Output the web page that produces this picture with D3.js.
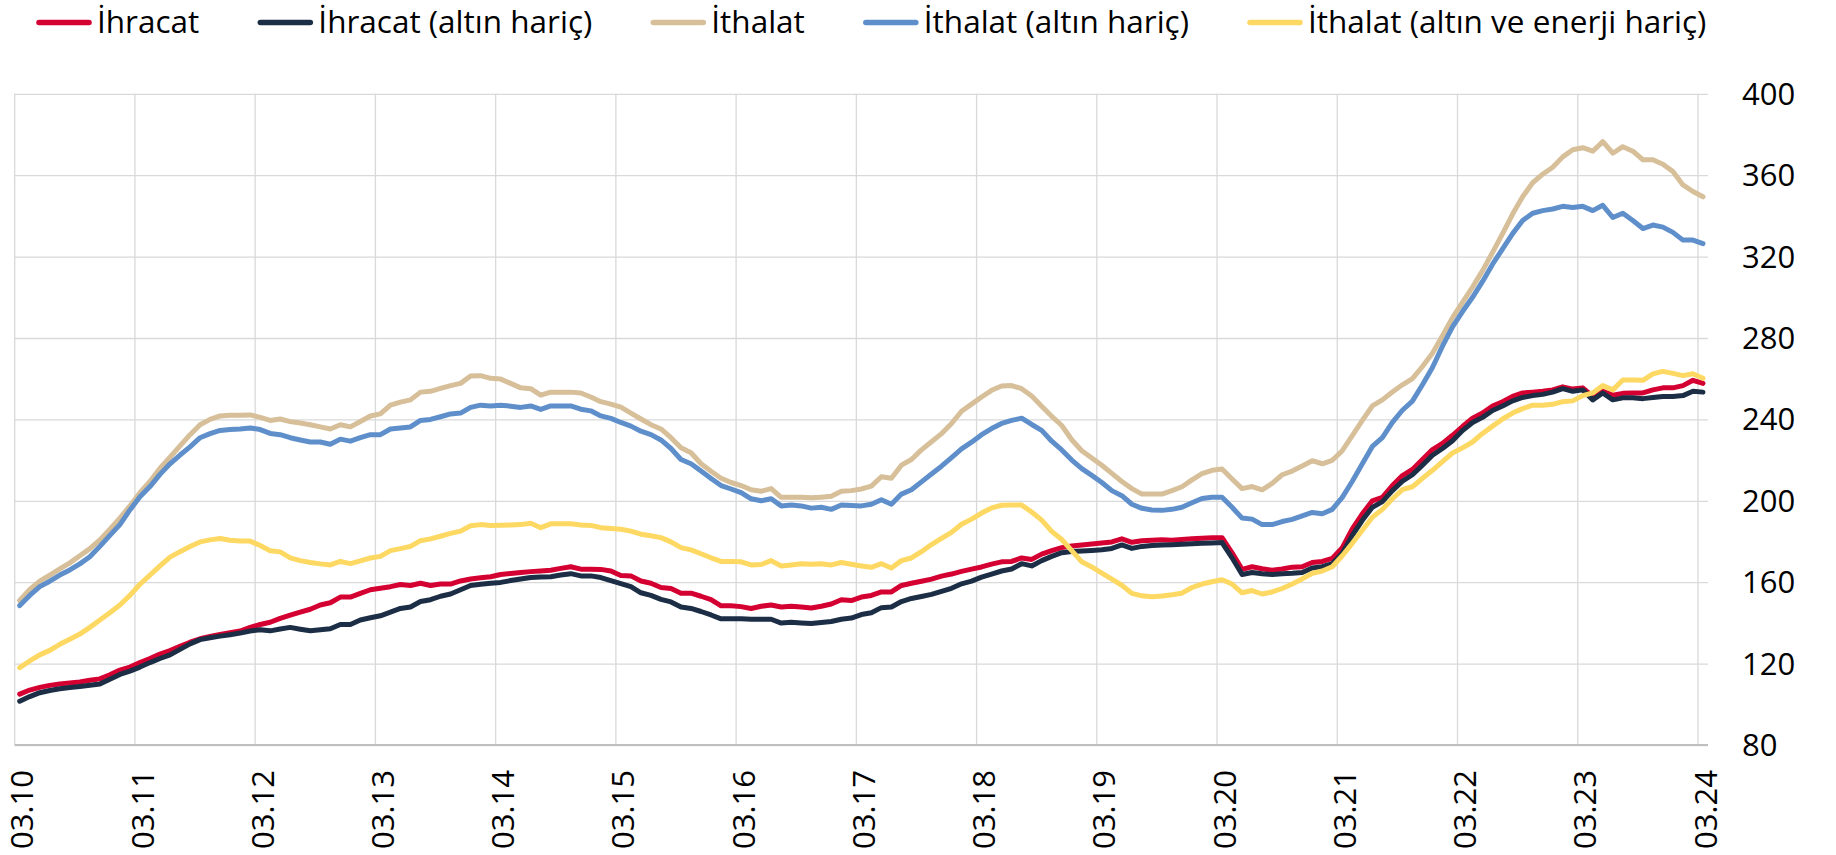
<!DOCTYPE html>
<html><head><meta charset="utf-8">
<script src="https://cdn.jsdelivr.net/npm/d3@7"></script>
<style>html,body{margin:0;padding:0;background:#fff;}svg{display:block;font-family:"Open Sans",sans-serif;}</style>
</head><body>
<svg id="chart" width="1836" height="855"></svg>
<script>
// ---- DATA ----
const seriesNames = ["İhracat","İhracat (altın hariç)","İthalat","İthalat (altın hariç)","İthalat (altın ve enerji hariç)"];
const seriesColors = ["#d50032","#1c2e45","#d6bf99","#5f8fcb","#fdd862"];
const xTickLabels = ["03.10","03.11","03.12","03.13","03.14","03.15","03.16","03.17","03.18","03.19","03.20","03.21","03.22","03.23","03.24"];
const yTicks = [80,120,160,200,240,280,320,360,400];

// months 03.10 ... 03.24 (category labels, MM.YY)
const months = [];
for (let yy = 10; yy <= 24; yy++) {
  for (let mm = 1; mm <= 12; mm++) {
    if ((yy === 10 && mm < 3) || (yy === 24 && mm > 3)) continue;
    months.push(String(mm).padStart(2,"0") + "." + yy);
  }
}

const ihracat = [
105,107,108.3,109.3,110,110.5,111,111.8,112.5,114.5,116.8,118.3,
120.5,122.5,124.7,126.4,128.5,130.5,132.2,133.3,134.3,135.2,136,137.8,
139.2,140.3,142.2,143.8,145.3,146.7,148.8,149.9,152.7,152.7,154.5,156.3,
157,157.8,158.9,158.4,159.5,158.4,159.1,159.1,160.6,161.6,162.2,162.7,
163.8,164.3,164.8,165.2,165.5,165.9,166.8,167.6,166.4,166.4,166.3,165.5,
163.3,163.1,160.6,159.5,157.4,156.9,154.6,154.6,153.1,151.4,148.4,148.4,
148,147.1,148.2,148.8,147.8,148.2,147.8,147.3,148.2,149.3,151.4,151,
152.7,153.5,155.2,155.2,158.4,159.5,160.5,161.5,163,164,165.3,166.4,
167.5,168.9,170,170.2,171.9,171.2,173.8,175.5,177,177.8,178.3,178.8,
179.3,179.8,181.3,179.6,180.4,180.6,180.8,180.6,181,181.3,181.6,181.9,
181.9,174.4,166.3,167.6,166.6,165.9,166.5,167.4,167.6,169.7,170.2,171.7,
177,186.2,193.6,200,201.7,207.5,212.4,215.4,220.3,225.2,228.2,232.2,
236.5,240.6,243.1,246.6,248.7,251.3,253,253.4,253.8,254.5,256,254.9,
255.5,251.3,253.8,251.9,252.8,253,253,254.5,255.5,255.5,256.6,259.2,
257.7];

const ihracatAltinHaric = [
101.5,103.8,105.7,106.8,107.6,108.3,108.8,109.4,110,112.3,114.7,116.3,
118.3,120.5,122.5,124.3,127,129.7,131.8,132.7,133.5,134.2,135,136,
136.6,136.1,137,137.8,136.9,136.1,136.6,137.1,139.2,139.2,141.4,142.5,
143.5,145.3,147.1,147.8,150.5,151.4,153.1,154.2,156.3,158.4,159,159.5,
159.9,160.8,161.6,162.3,162.5,162.7,163.5,164.2,163.1,163.1,162.3,160.8,
159.3,157.8,154.8,153.5,151.6,150.3,147.8,147.1,145.6,143.9,142,142,
142,141.8,141.8,141.8,139.9,140.3,140,139.7,140.2,140.7,141.8,142.4,
144.1,145,147.5,147.8,150.5,152,153,154,155.5,157,159.2,160.5,
162.5,164,165.5,166.5,169.1,168,170.6,172.7,174.5,175.1,175.3,175.6,
175.9,176.6,178.3,176.6,177.6,178,178.3,178.4,178.6,178.9,179.1,179.3,
179.5,172,163.8,164.8,164.2,163.8,164.2,164.4,164.8,167,167.6,169.1,
174.4,183,190.4,196.8,199.6,205,209.6,212.8,217.5,222.4,225.7,229.5,
234.5,238.5,241,244.4,246.6,249.1,250.8,251.7,252.3,253.4,255.1,253.8,
254.5,249.6,253,249.6,250.6,250.6,250.2,250.8,251.3,251.3,251.7,253.8,
253.4];

const ithalat = [
151,156.5,160.5,163.5,166.5,169.5,173,176.5,180.8,186,191.5,197.5,
204,209.5,216,221.4,227,232.5,237.4,240,241.7,242,242,242.2,
241,239.5,240.2,238.9,238.2,237.4,236.3,235.3,237.4,236.3,239,241.7,
242.7,247,248.5,249.6,253.4,253.8,255.2,256.6,257.7,261.3,261.5,260.2,
259.8,257.7,255.5,255.1,251.9,253.4,253.4,253.4,253,251,248.7,247.5,
246,243.1,240.2,237.4,235.3,231,226.1,223.6,218.2,214.5,211.1,209,
207.5,205.4,204.7,206,201.7,201.7,201.7,201.5,201.8,202.2,204.7,205,
205.8,207.2,211.8,211.1,217.5,220.3,225,229,233,238,244,247.5,
251,254.3,256.4,256.6,255.1,251.5,246.5,241.5,237,230,224.6,221,
217.5,213.5,209.5,206,203.3,203.3,203.3,205,206.9,210.3,213.3,215,
215.6,210.7,206,207,205.4,208.6,212.8,214.6,217.1,219.7,218.2,219.9,
224.6,232,239.5,246.6,249.6,253.5,257,260,266,272.5,281.1,290,
297.5,305,313.1,322.1,331.3,340.9,349.4,356.3,360.5,363.9,369,372.5,
373.5,371.8,376.5,370.8,374,371.8,367.6,367.6,365.4,361.8,355.2,352,
349.4];

const ithalatAltinHaric = [
148.5,153.5,157.8,160.5,163.5,166,169,172.5,177.6,183,188.3,195.5,
202,207,213,218.2,222.5,226.5,231,233,234.6,235,235.3,235.8,
235,233.1,232.5,231,229.9,228.9,228.9,227.8,230.3,229.3,231,232.5,
232.5,235.3,235.8,236.3,239.5,240,241.3,242.7,243.1,245.9,247,246.6,
247,246.5,245.9,246.6,244.9,246.6,246.6,246.6,245,244.2,241.7,240.5,
238.5,236.7,234.2,232.5,229.9,225.7,220.3,218.2,214.6,211,207.5,205.8,
204,201,200,201,197.5,197.9,197.5,196.4,196.8,195.8,197.9,197.7,
197.5,198.3,200.5,198.3,203.3,205.4,209.3,213.2,217,221.2,225.5,228.8,
232.5,235.5,238,239.5,240.6,237.5,234.6,229.3,225,220,215.8,212.5,
209,205,202.5,198.3,196.3,195.5,195.3,195.8,196.8,199,201.1,201.7,
201.7,196.8,191.5,191,188.3,188.3,189.8,190.9,192.6,194.3,193.6,195.8,
201.7,209.6,218.2,226.7,231,238.5,244.5,249,257,265.5,276,285.5,
293,300,307.8,316.3,323.8,331.3,337.7,341.3,342.6,343.4,344.7,344.1,
344.7,342.6,345.2,339.2,341.3,337.7,333.8,335.5,334.5,331.9,328.1,328.1,
326.4];

const ithalatAltinEnerjiHaric = [
118,121.3,124.3,126.5,129.5,132,134.5,137.8,141.4,145,148.8,153.5,
159,163.5,168,172.3,175,177.5,179.8,180.8,181.5,180.6,180.3,180.2,
178,175.5,174.9,172,170.6,169.7,169,168.5,170.2,169.1,170.5,171.9,
172.7,175.5,176.5,177.6,180.4,181.3,182.6,184,185.1,187.7,188.3,187.9,
188,188.1,188.3,189,186.8,188.7,188.7,188.7,188.1,187.9,186.8,186.4,
186,185.1,183.6,182.8,181.9,179.8,177,175.9,174,172,170.2,170.2,
170,168.5,168.7,170.6,168,168.5,169.1,168.8,169.1,168.5,169.7,168.8,
168,167.3,169.1,167,170.6,171.9,175,178.5,181.5,184.5,188.5,191,
194,196.5,197.8,197.9,197.9,194.5,190.5,185,181,175.5,170,167.5,
164.5,161.5,158.5,154.5,153.3,152.8,153.2,153.8,154.6,157.4,159.1,160.2,
161.2,159.1,154.8,155.9,154.2,155.2,156.9,159.1,161.6,164.4,165.5,167.6,
173,179.1,185.5,191.9,195.8,201,205.5,206.9,211,215,219.3,223.5,
226,228.9,233.1,236.7,240.2,243.1,245.3,247,247,247.4,248.7,249.1,
251.7,253,256.6,254.5,259.4,259.4,259.2,262.4,263.6,262.6,261.5,262.4,
260.2];

const seriesValues = [ihracat, ihracatAltinHaric, ithalat, ithalatAltinHaric, ithalatAltinEnerjiHaric];

// ---- LAYOUT ----
const plotL = 14.7, plotR = 1708, plotT = 93.8, plotB = 745;
const FONT = 31;
const LEGFONT = 31.5;
const svg = d3.select("#chart");

const x = d3.scaleBand().domain(months).range([plotL, plotR]).padding(0);
const y = d3.scaleLinear().domain([80, 400]).range([plotB, plotT]);
const cx = d => x(d) + x.bandwidth() / 2;

// horizontal gridlines + right labels
svg.append("g")
  .attr("transform", `translate(${plotR},0)`)
  .call(d3.axisRight(y).tickValues(yTicks).tickSize(-(plotR - plotL)).tickPadding(34))
  .call(g => g.attr("font-family", "'Open Sans', sans-serif").attr("font-size", FONT))
  .call(g => g.select(".domain").remove())
  .call(g => g.selectAll(".tick line").attr("stroke", "#d9d9d9").attr("stroke-width", 1.3))
  .call(g => g.selectAll(".tick text").attr("fill", "#000").attr("dy", "0.34em"));

// vertical gridlines (at category boundaries, every 12 months)
svg.append("g").selectAll("line").data(xTickLabels).join("line")
  .attr("x1", d => x(d)).attr("x2", d => x(d))
  .attr("y1", plotT).attr("y2", plotB)
  .attr("stroke", "#d9d9d9").attr("stroke-width", 1.3);

// x labels
svg.append("g")
  .attr("transform", `translate(0,${plotB})`)
  .call(d3.axisBottom(x).tickValues(xTickLabels).tickSize(0))
  .call(g => g.attr("font-family", "'Open Sans', sans-serif").attr("font-size", FONT))
  .call(g => g.select(".domain").remove())
  .call(g => g.selectAll(".tick text")
    .attr("fill", "#000")
    .attr("transform", "rotate(-90)")
    .attr("x", -25).attr("y", 13.6).attr("dy", 0)
    .attr("text-anchor", "end"));

// bottom axis line
svg.append("line")
  .attr("x1", plotL).attr("x2", plotR).attr("y1", plotB).attr("y2", plotB)
  .attr("stroke", "#bfbfbf").attr("stroke-width", 2);

// series lines
const line = d3.line().x((d, i) => cx(months[i])).y(d => y(d));
svg.append("g").selectAll("path").data(seriesValues).join("path")
  .attr("d", d => line(d))
  .attr("fill", "none")
  .attr("stroke", (d, i) => seriesColors[i])
  .attr("stroke-width", 5)
  .attr("stroke-linejoin", "round")
  .attr("stroke-linecap", "round");

// legend
const leg = svg.append("g").attr("font-family", "'Open Sans', sans-serif").attr("font-size", LEGFONT);
let lx = 36;
seriesNames.forEach((name, i) => {
  leg.append("line")
    .attr("x1", lx + 3).attr("x2", lx + 53).attr("y1", 22.5).attr("y2", 22.5)
    .attr("stroke", seriesColors[i]).attr("stroke-width", 5.5).attr("stroke-linecap", "round");
  const t = leg.append("text").attr("x", lx + 61).attr("y", 33.2).attr("fill", "#000").text(name);
  lx = lx + 61 + t.node().getComputedTextLength() + 58;
});
</script>
</body></html>
